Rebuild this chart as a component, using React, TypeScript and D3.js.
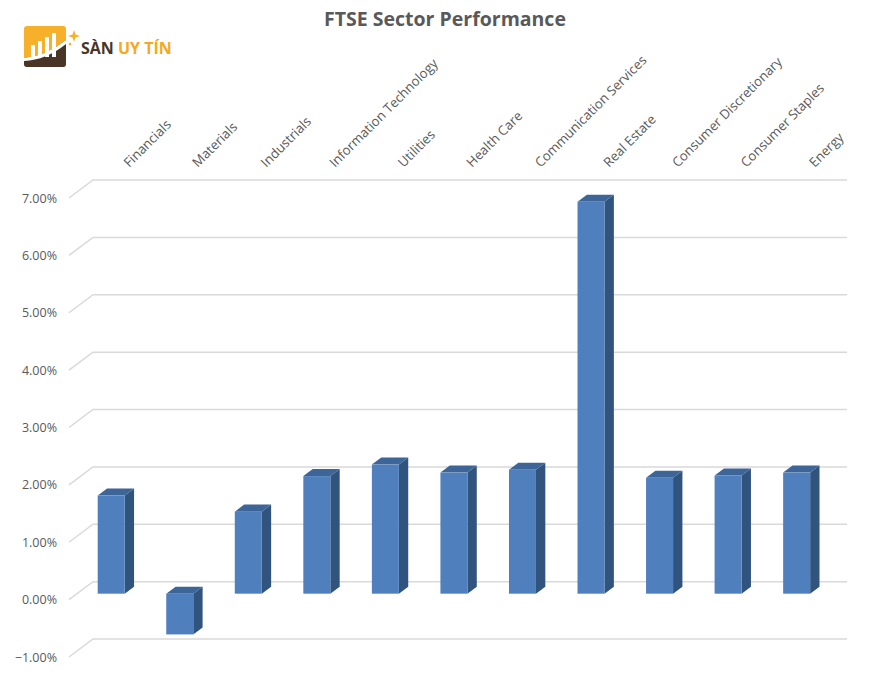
import React from 'react';
import * as d3 from 'd3';

const CATEGORIES = [
  'Financials', 'Materials', 'Industrials', 'Information Technology', 'Utilities',
  'Health Care', 'Communication Services', 'Real Estate', 'Consumer Discretionary',
  'Consumer Staples', 'Energy',
];
const VALUES = [1.71, -0.71, 1.43, 2.05, 2.25, 2.11, 2.16, 6.83, 2.02, 2.06, 2.11];
const Y_TICKS = [-1, 0, 1, 2, 3, 4, 5, 6, 7];

const W = 871;
const H = 675;
const FONT = '"Open Sans", "Noto Sans", sans-serif';
const TXT = '#595959';
const GRID = '#d9d9d9';
const FRONT = '#4f80bd';
const SIDE = '#31547f';
const TOP = '#3d6598';

// perspective: full depth goes from back wall (0) to front edge (1)
const DEPTH_X = -24;
const DEPTH_Y = 18;
const BAR_BACK = 0.28;
const BAR_FRONT = 0.67;
const BAR_W = 27;

function Logo() {
  return (
    <g>
      <rect x={24} y={26} width={42} height={41} rx={3} fill="#f7b02c" />
      <path d="M24,58 Q46,56 66,40 L66,64 Q66,67 63,67 L27,67 Q24,67 24,64 Z" fill="#4a3426" />
      <path d="M24,58 Q46,56 66,40 L66,44 Q46,60 24,61 Z" fill="#ffffff" />
      {[0, 1, 2, 3].map(i => (
        <rect key={i} x={31 + i * 7} y={45 - i * 4} width={4} height={12 + i * 4} fill="#ffffff" />
      ))}
      <path d="M74,30 L75.5,34.5 L80,36 L75.5,37.5 L74,42 L72.5,37.5 L68,36 L72.5,34.5 Z" fill="#f7b02c" />
      <circle cx={70} cy={44} r={1.3} fill="#f7b02c" />
      <text x={81} y={54} fontFamily={FONT} fontWeight={700} fontSize={16} fill="#4a3426">
        SÀN <tspan fill="#f7a823">UY TÍN</tspan>
      </text>
    </g>
  );
}

export default function App() {
  const x = d3.scaleBand<string>().domain(CATEGORIES).range([93, 847]);
  const y = d3.scaleLinear().domain([-1, 7]).range([639, 180]);

  const bars = CATEGORIES.map((c, i) => {
    const v = VALUES[i];
    const cx = x(c)! + x.bandwidth() / 2;
    const fx = cx - BAR_W / 2 + DEPTH_X * BAR_FRONT;
    const bdx = DEPTH_X * (BAR_BACK - BAR_FRONT);
    const bdy = DEPTH_Y * (BAR_BACK - BAR_FRONT);
    const yTop = y(Math.max(v, 0)) + DEPTH_Y * BAR_FRONT;
    const yBot = y(Math.min(v, 0)) + DEPTH_Y * BAR_FRONT;
    const top = `M${fx},${yTop} L${fx + bdx},${yTop + bdy} L${fx + BAR_W + bdx},${yTop + bdy} L${fx + BAR_W},${yTop} Z`;
    const side = `M${fx + BAR_W},${yTop} L${fx + BAR_W + bdx},${yTop + bdy} L${fx + BAR_W + bdx},${yBot + bdy} L${fx + BAR_W},${yBot} Z`;
    return (
      <g key={c}>
        <path d={side} fill={SIDE} />
        <path d={top} fill={TOP} />
        <rect x={fx} y={yTop} width={BAR_W} height={yBot - yTop} fill={FRONT} />
      </g>
    );
  });

  return (
    <div style={{ position: 'absolute', left: 0, top: 0 }}>
      <svg width={W} height={H} style={{ display: 'block', background: '#fff' }}>
        <Logo />
        <text x={445} y={26} textAnchor="middle" fontFamily={FONT} fontWeight={700} fontSize={19.5} fill={TXT}>
          FTSE Sector Performance
        </text>

        {Y_TICKS.map(t => (
          <g key={t}>
            <polyline
              points={`${93 + DEPTH_X},${y(t) + DEPTH_Y} 93,${y(t)} 847,${y(t)}`}
              fill="none" stroke={GRID} strokeWidth={1.5}
            />
            <text x={57} y={y(t) + DEPTH_Y + 4.5} textAnchor="end" fontFamily={FONT} fontSize={12.5} fill={TXT}>
              {d3.format('.2f')(t)}%
            </text>
          </g>
        ))}

        {bars}

        {CATEGORIES.map(c => {
          const cx = x(c)! + x.bandwidth() / 2;
          return (
            <text key={c} transform={`translate(${cx + 2},${168}) rotate(-45)`} fontFamily={FONT} fontSize={13.2} fill={TXT}>
              {c}
            </text>
          );
        })}
      </svg>
    </div>
  );
}
